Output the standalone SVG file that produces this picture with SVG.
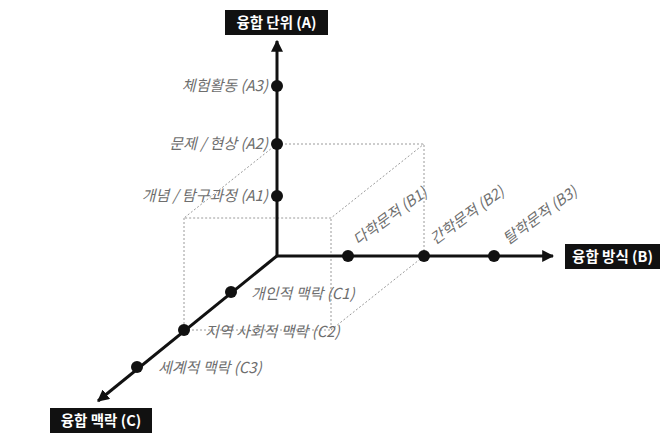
<svg xmlns="http://www.w3.org/2000/svg" width="667" height="436" viewBox="0 0 667 436">
<style>
.axis{stroke:#111;stroke-width:3;fill:none}
.dash{stroke:#9a9a9a;stroke-width:1;stroke-dasharray:2,2;fill:none}
.dot{fill:#111}
.lbl{font-family:"Noto Sans CJK KR","Noto Sans",sans-serif;font-size:15px;font-style:italic;fill:#6e6e6e}
.box{fill:#111}
.btx{font-family:"Noto Sans CJK KR","Noto Sans",sans-serif;font-size:14.5px;font-weight:bold;fill:#fff}
</style>
<defs>
<marker id="ah" viewBox="0 0 10 10" refX="9" refY="5" markerWidth="4" markerHeight="4" orient="auto" markerUnits="strokeWidth">
<path d="M0,0 L10,5 L0,10 z" fill="#111"/>
</marker>
</defs>
<rect width="667" height="436" fill="#fff"/>
<g id="cube">
<path class="dash" d="M277,144 H424 V256"/>
<path class="dash" d="M277,144 L184,218 H331 L424,144"/>
<path class="dash" d="M184,218 V330 H331 V218"/>
<path class="dash" d="M331,330 L424,256"/>
</g>
<g id="connectors">
<line class="axis" x1="277" y1="256" x2="277" y2="41" marker-end="url(#ah)"/>
<line class="axis" x1="276" y1="256" x2="553" y2="256" marker-end="url(#ah)"/>
<line class="axis" x1="278" y1="255" x2="98" y2="401" marker-end="url(#ah)"/>
</g>
<g id="axisA">
<rect class="box" x="225" y="10" width="103" height="25"/>
<text class="btx" x="276.5" y="27.5" text-anchor="middle">융합 단위 (A)</text>
</g>
<g id="axisB">
<rect class="box" x="565" y="244" width="95" height="25"/>
<text class="btx" x="612.5" y="261.5" text-anchor="middle">융합 방식 (B)</text>
</g>
<g id="axisC">
<rect class="box" x="50" y="408" width="102" height="25"/>
<text class="btx" x="101" y="425.5" text-anchor="middle">융합 맥락 (C)</text>
</g>
<g id="A3"><circle class="dot" cx="277" cy="86" r="6"/><text class="lbl" x="268" y="91" text-anchor="end">체험활동 (A3)</text></g>
<g id="A2"><circle class="dot" cx="277" cy="144" r="6"/><text class="lbl" x="268" y="149" text-anchor="end">문제 / 현상 (A2)</text></g>
<g id="A1"><circle class="dot" cx="277" cy="196" r="6"/><text class="lbl" x="268" y="201" text-anchor="end">개념 / 탐구과정 (A1)</text></g>
<g id="B1"><circle class="dot" cx="348" cy="256" r="6"/><text class="lbl" transform="translate(358,246) rotate(-36)">다학문적 (B1)</text></g>
<g id="B2"><circle class="dot" cx="424" cy="256" r="6"/><text class="lbl" transform="translate(435,245) rotate(-36)">간학문적 (B2)</text></g>
<g id="B3"><circle class="dot" cx="494" cy="256" r="6"/><text class="lbl" transform="translate(508,245) rotate(-36)">탈학문적 (B3)</text></g>
<g id="C1"><circle class="dot" cx="231" cy="292" r="6"/><text class="lbl" x="251" y="299">개인적 맥락 (C1)</text></g>
<g id="C2"><circle class="dot" cx="184" cy="330" r="6"/><text class="lbl" x="205" y="337">지역 사회적 맥락 (C2)</text></g>
<g id="C3"><circle class="dot" cx="137" cy="367" r="6"/><text class="lbl" x="158" y="373">세계적 맥락 (C3)</text></g>
</svg>
